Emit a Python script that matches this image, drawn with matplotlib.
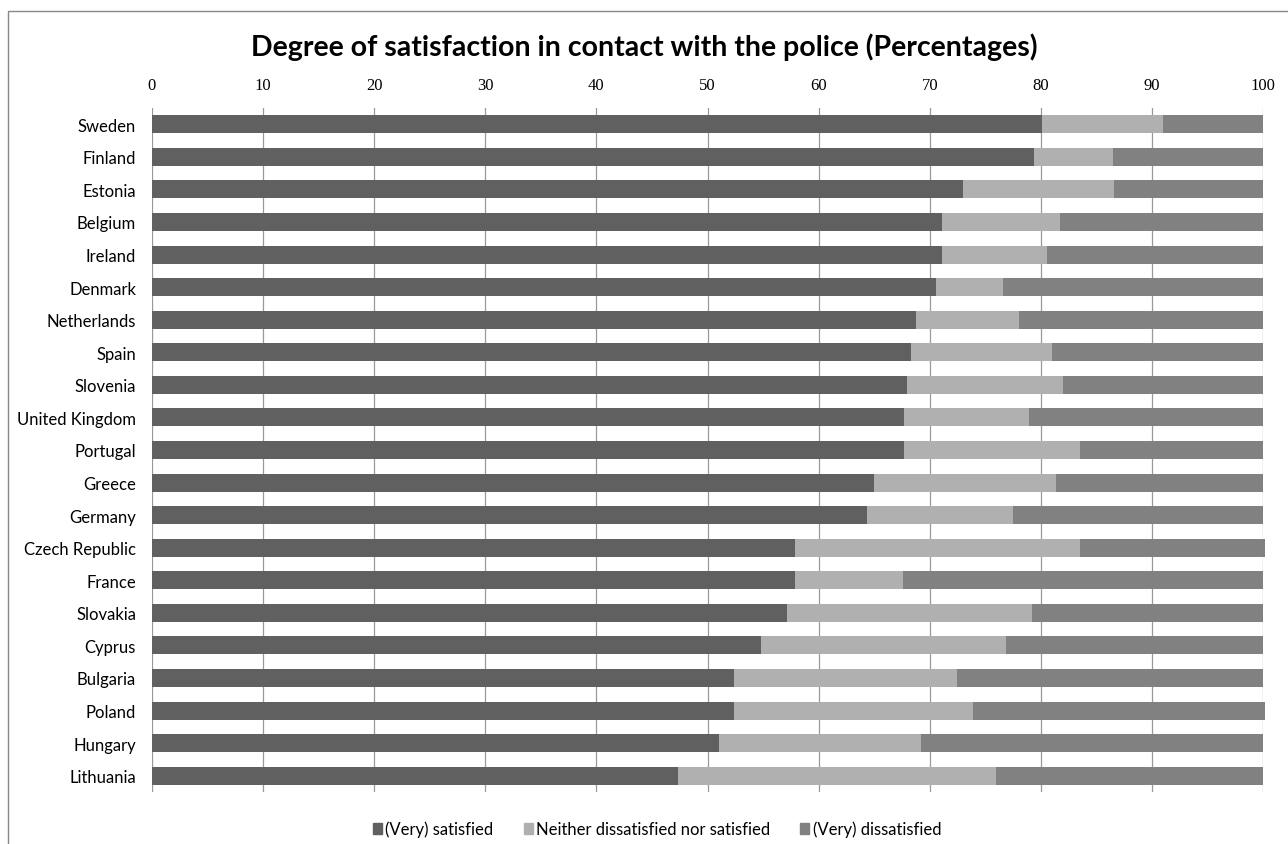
import matplotlib.pyplot as plt
from matplotlib.patches import Patch, Rectangle

countries = ["Sweden", "Finland", "Estonia", "Belgium", "Ireland", "Denmark",
             "Netherlands", "Spain", "Slovenia", "United Kingdom", "Portugal",
             "Greece", "Germany", "Czech Republic", "France", "Slovakia",
             "Cyprus", "Bulgaria", "Poland", "Hungary", "Lithuania"]
satisfied = [80.1, 79.4, 73.0, 71.1, 71.1, 70.6, 68.8, 68.3, 68.0, 67.7, 67.7,
             65.0, 64.4, 57.9, 57.9, 57.2, 54.8, 52.4, 52.4, 51.0, 47.3]
neither = [10.9, 7.1, 13.6, 10.6, 9.5, 6.0, 9.2, 12.7, 14.0, 11.2, 15.8,
           16.4, 13.1, 25.6, 9.7, 22.0, 22.1, 20.1, 21.5, 18.2, 28.7]
dissatisfied = [9.0, 13.5, 13.4, 18.3, 19.4, 23.4, 22.0, 19.0, 18.0, 21.1, 16.5,
                18.6, 22.5, 16.7, 32.4, 20.8, 23.1, 27.5, 26.3, 30.8, 24.0]
series = ["(Very) satisfied", "Neither dissatisfied nor satisfied", "(Very) dissatisfied"]
colors = ["#606060", "#b0b0b0", "#818181"]
xticks = list(range(0, 101, 10))

fig = plt.figure(figsize=(12.88, 8.45), dpi=100)
# plot area: x 152..1263, y 109..793 (pixels)
ax = fig.add_axes([152 / 1288, 1 - 793 / 845, 1111 / 1288, 684 / 845])

y = list(range(len(countries)))
left = [0.0] * len(countries)
for vals, col, name in zip([satisfied, neither, dissatisfied], colors, series):
    ax.barh(y, vals, left=left, height=0.55, color=col, label=name,
            zorder=2, clip_on=False)
    left = [a + b for a, b in zip(left, vals)]

ax.set_xlim(0, 100)
ax.set_ylim(len(countries) - 0.5, -0.5)
ax.set_xticks(xticks)
ax.set_yticks(y)
ax.set_yticklabels(countries, family="Lato", fontsize=12)
ax.xaxis.tick_top()
ax.tick_params(axis="x", length=0, pad=11)
ax.tick_params(axis="y", length=0, pad=11.5)
for lab in ax.get_xticklabels():
    lab.set_family("Liberation Serif")
    lab.set_fontsize(12)
ax.grid(axis="x", color="#999999", linewidth=0.9, zorder=1)
ax.set_axisbelow(True)
for s in ax.spines.values():
    s.set_visible(False)

fig.text(0.5, 1 - 47 / 845,
         "Degree of satisfaction in contact with the police (Percentages)",
         ha="center", va="center", family="Lato", fontweight="bold", fontsize=20.5)

handles = [Patch(color=c, label=n) for c, n in zip(colors, series)]
fig.legend(handles=handles, loc="center", bbox_to_anchor=(657 / 1288, 1 - 830 / 845),
           ncol=3, frameon=False, prop={"family": "Lato", "size": 12},
           handlelength=0.55, handleheight=0.6, handletextpad=0.2, columnspacing=1.8)

fig.add_artist(Rectangle((8 / 1288, -0.05), 1.1, 1.05 - 12 / 845,
                         transform=fig.transFigure, fill=False,
                         edgecolor="#888888", linewidth=1))

fig.savefig("out.png", dpi=100)
